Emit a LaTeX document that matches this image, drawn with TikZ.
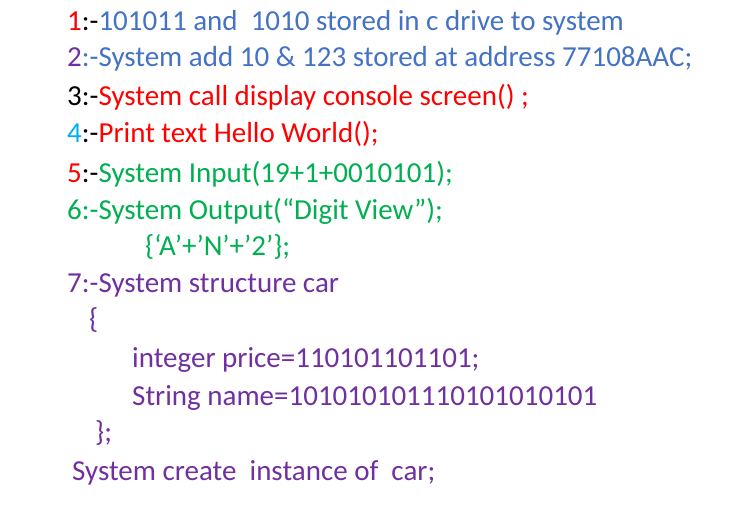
\documentclass[tikz,border=0pt]{standalone}
\usepackage{fontspec}
\setmainfont{Carlito}
\definecolor{cr}{HTML}{FF0000}
\definecolor{cb}{HTML}{4472C4}
\definecolor{cp}{HTML}{7030A0}
\definecolor{cc}{HTML}{00B0F0}
\definecolor{cg}{HTML}{00B050}
\begin{document}
\begin{tikzpicture}[x=1pt,y=-1pt,
  ln/.style={anchor=base west,inner sep=0pt,font=\fontsize{29}{34}\selectfont}]
\useasboundingbox (0,0) rectangle (746,524);
\node[ln] (l1) at (67,31) {\textcolor{cr}{1}:-\textcolor{cb}{101011 and\ \ 1010 stored in c drive to system}};
\node[ln] (l2) at (67,67) {\textcolor{cp}{2}\textcolor{cb}{:-System add 10 \& 123 stored at address 77108AAC;}};
\node[ln] (l3) at (67,106) {3:-\textcolor{cr}{System call display console screen() ;}};
\node[ln] (l4) at (67,142) {\textcolor{cc}{4}:-\textcolor{cr}{Print text Hello World();}};
\node[ln] (l5) at (67,182) {\textcolor{cr}{5}:-\textcolor{cg}{System Input(19+1+0010101);}};
\node[ln,text=cg] (l6) at (67,219) {6:-System Output(“Digit View”);};
\node[ln,text=cg] (l6b) at (145,255) {\{‘A’+’N’+’2’\};};
\node[ln,text=cp] (l7) at (67,292) {7:-System structure car};
\node[ln,text=cp] (b1) at (89,328) {\{};
\node[ln,text=cp] (l8) at (132,367) {integer price=110101101101;};
\node[ln,text=cp] (l9) at (132,405) {String name=101010101110101010101};
\node[ln,text=cp] (b2) at (95,441) {\};};
\node[ln,text=cp] (l10) at (72,480) {System create\ \ instance of\ \ car;};
\end{tikzpicture}
\end{document}
